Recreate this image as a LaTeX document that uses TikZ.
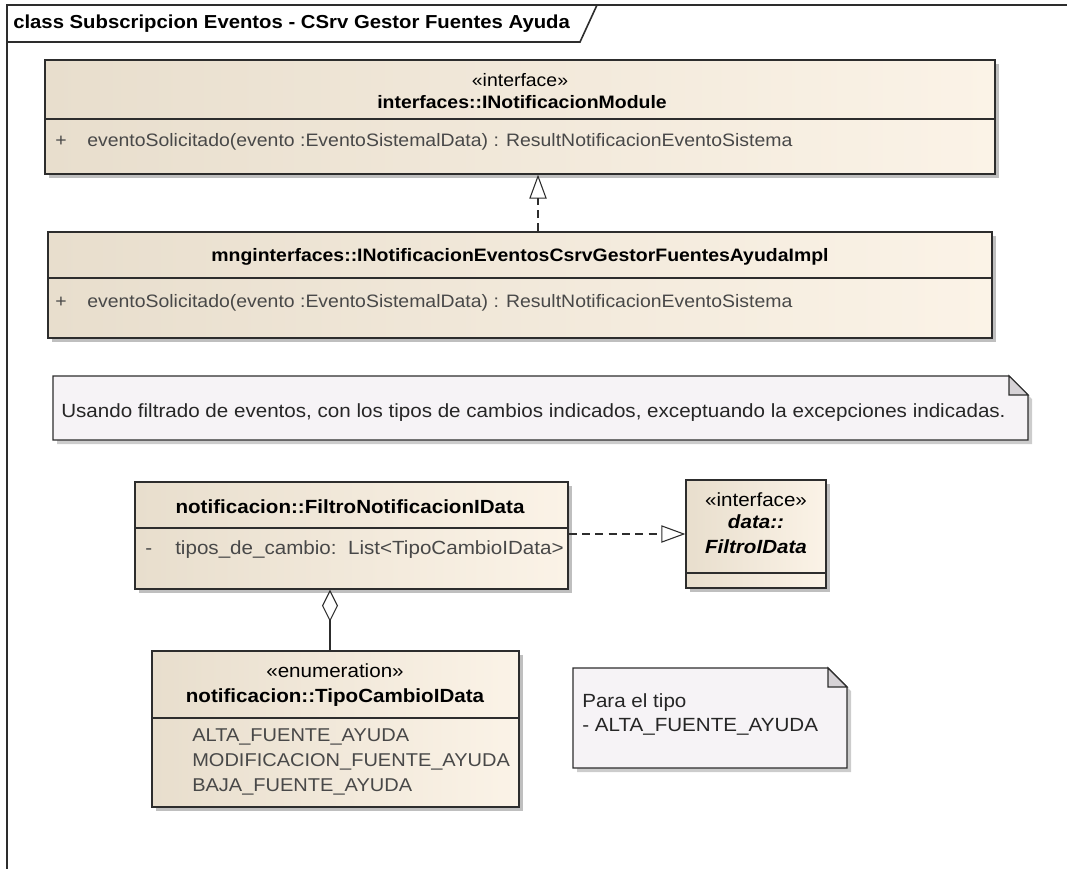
\documentclass[tikz,border=0pt]{standalone}
\usepackage{fontspec}
\setmainfont{Liberation Sans}[FakeStretch=1.08]
\usetikzlibrary{arrows.meta,shadows,fit}

\definecolor{umlline}{RGB}{45,45,45}
\definecolor{classleft}{RGB}{232,222,205}
\definecolor{classright}{RGB}{251,243,231}
\definecolor{notefill}{RGB}{246,243,246}
\definecolor{notefold}{RGB}{214,210,214}
\definecolor{membertext}{RGB}{72,72,72}

\begin{document}
\begin{tikzpicture}[x=0.75pt,y=-0.75pt,
  every node/.style={font=\fontsize{13.5}{18}\selectfont, inner sep=0pt, text height=9.7pt, text depth=2.7pt},
  big/.style={font=\fontsize{14.3}{18}\selectfont},
  classbox/.style={draw=umlline, line width=1pt, left color=classleft, right color=classright,
    drop shadow={shadow xshift=3pt, shadow yshift=-3pt, fill=black, opacity=0.25}},
  classname/.style={font=\fontsize{13.5}{18}\selectfont\bfseries},
  bigname/.style={font=\fontsize{14.3}{18}\selectfont\bfseries},
  member/.style={anchor=west, text=membertext},
  literal/.style={member, font=\fontsize{13.9}{18}\selectfont},
  notetext/.style={big, anchor=west, text=black!85},
  divider/.style={draw=umlline, line width=0.8pt},
  notebox/.style={draw=umlline, line width=1pt, fill=notefill},
  realize/.style={draw=umlline, line width=0.8pt, dash pattern=on 6pt off 4pt,
    -{Triangle[open, length=18pt, width=13pt]}},
  aggregate/.style={draw=umlline, line width=0.8pt, -{Diamond[open, length=24pt, width=12pt]}}
]
\useasboundingbox (0,0) rectangle (1067,868);
\clip (0,0) rectangle (1067,868);
\fill[white] (0,0) rectangle (1067,868);

% diagram frame and name tab
\draw[umlline, line width=1.2pt] (7,900) -- (7,5) -- (1090,5);
\draw[umlline, line width=1.2pt] (7,42) -- (580,42) -- (597,5);
\node[bigname, font=\fontsize{14.1}{18}\selectfont\bfseries, anchor=west] (diagname) at (13,24) {class Subscripcion Eventos - CSrv Gestor Fuentes Ayuda};

% interface INotificacionModule
\node[classbox, fit={(45,60) (995,174)}] (imodule) {};
\draw[divider] (imodule.west |- 0,119) -- (imodule.east |- 0,119);
\node (imodstereo) at (520,82) {«interface»};
\node[classname] (imodname) at (522,104) {interfaces::INotificacionModule};
\node[member] (imodvis) at (55,142) {+};
\node[member] (imodop) at (87,142) {eventoSolicitado(evento :EventoSistemalData) : ResultNotificacionEventoSistema};

% implementation class
\node[classbox, fit={(48,232) (992,338)}] (implbox) {};
\draw[divider] (implbox.west |- 0,278) -- (implbox.east |- 0,278);
\node[classname] (implname) at (520,257) {mnginterfaces::INotificacionEventosCsrvGestorFuentesAyudaImpl};
\node[member] (implvis) at (55,303) {+};
\node[member] (implop) at (87,303) {eventoSolicitado(evento :EventoSistemalData) : ResultNotificacionEventoSistema};

\draw[realize] (implbox.north -| 538,0) -- (imodule.south -| 538,0);

% note on event filtering
\fill[black, opacity=0.2] (57,380) -- (1012,380) -- (1032,399) -- (1032,444) -- (57,444) -- cycle;
\draw[notebox] (53,376) -- (1009,376) -- (1028,395) -- (1028,440) -- (53,440) -- cycle;
\draw[umlline, line width=0.8pt, fill=notefold] (1009,376) -- (1009,395) -- (1028,395) -- cycle;
\node[notetext] (filternote) at (61,413) {Usando filtrado de eventos, con los tipos de cambios indicados, exceptuando la excepciones indicadas.};

% FiltroNotificacionIData
\node[classbox, fit={(135,482) (568,589)}] (filtro) {};
\draw[divider] (filtro.west |- 0,528) -- (filtro.east |- 0,528);
\node[bigname] (filtroname) at (350,509) {notificacion::FiltroNotificacionIData};
\node[member, big] (filtrovis) at (145,550) {-};
\node[member, big] (filtroattr) at (175,550) {tipos\_de\_cambio:\ \ List<TipoCambioIData>};

% interface FiltroIData
\node[classbox, fit={(686,480) (826,588)}] (filtroidata) {};
\draw[divider] (filtroidata.west |- 0,573) -- (filtroidata.east |- 0,573);
\node[big] (fidstereo) at (756,502) {«interface»};
\node[bigname, font=\fontsize{14.3}{18}\selectfont\bfseries\itshape] (fidpkg) at (756,524) {data::};
\node[bigname, font=\fontsize{14.3}{18}\selectfont\bfseries\itshape] (fidname) at (756,549) {FiltroIData};

\draw[realize] (filtro.east |- 0,534) -- (filtroidata.west |- 0,534);

% enumeration TipoCambioIData
\node[classbox, fit={(152,651) (519,807)}] (tipocambio) {};
\draw[divider] (tipocambio.west |- 0,718) -- (tipocambio.east |- 0,718);
\node[big] (tipostereo) at (335,673) {«enumeration»};
\node[bigname] (tiponame) at (335,698) {notificacion::TipoCambioIData};
\node[literal] (litalta) at (192,737) {ALTA\_FUENTE\_AYUDA};
\node[literal] (litmod) at (192,762) {MODIFICACION\_FUENTE\_AYUDA};
\node[literal] (litbaja) at (192,787) {BAJA\_FUENTE\_AYUDA};

\draw[aggregate] (tipocambio.north -| 330,0) -- (filtro.south -| 330,0);

% note on ALTA type
\fill[black, opacity=0.2] (577,672) -- (832,672) -- (851,691) -- (851,772) -- (577,772) -- cycle;
\draw[notebox] (573,668) -- (828,668) -- (847,687) -- (847,768) -- (573,768) -- cycle;
\draw[umlline, line width=0.8pt, fill=notefold] (828,668) -- (828,687) -- (847,687) -- cycle;
\node[notetext] (altanote1) at (582,703) {Para el tipo};
\node[notetext] (altanote2) at (582,727) {- ALTA\_FUENTE\_AYUDA};
\end{tikzpicture}
\end{document}
